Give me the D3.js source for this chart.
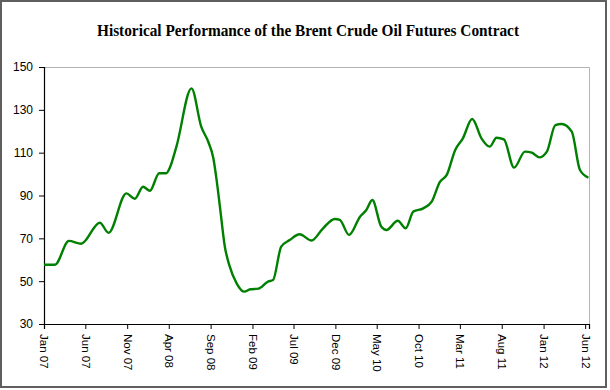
<!DOCTYPE html>
<html>
<head>
<meta charset="utf-8">
<script src="https://cdn.jsdelivr.net/npm/d3@7"></script>
<style>
  body { margin: 0; background: #fff; }
  svg { display: block; }
</style>
</head>
<body>
<svg id="chart" width="610" height="390"></svg>
<script>
// Brent front-month price (USD/bbl)
var dates = ["2007-01-01", "2007-02-10", "2007-04-02", "2007-05-17", "2007-07-24", "2007-08-25",
    "2007-10-29", "2007-11-29", "2007-12-29", "2008-01-23", "2008-02-26", "2008-03-23",
    "2008-04-04", "2008-04-29", "2008-06-23", "2008-07-29", "2008-08-23", "2008-09-11",
    "2008-09-23", "2008-10-05", "2008-10-23", "2008-11-08", "2008-12-05", "2009-01-02",
    "2009-01-24", "2009-02-23", "2009-03-30", "2009-04-17", "2009-05-17", "2009-06-17",
    "2009-07-23", "2009-09-05", "2009-10-17", "2009-11-29", "2009-12-17", "2010-01-20",
    "2010-03-01", "2010-03-24", "2010-04-15", "2010-05-18", "2010-06-06", "2010-07-17",
    "2010-08-15", "2010-09-12", "2010-10-18", "2010-11-18", "2010-12-18", "2011-01-12",
    "2011-02-12", "2011-03-12", "2011-04-15", "2011-05-19", "2011-06-18", "2011-07-13",
    "2011-08-09", "2011-09-15", "2011-10-25", "2011-11-19", "2011-12-16", "2012-01-13",
    "2012-02-13", "2012-03-07", "2012-04-13", "2012-05-13", "2012-06-13"];
var prices = [57.7, 57.7, 68.8, 67.5, 77.3, 72.6,
    91.0, 88.5, 94.1, 92.2, 100.4, 100.4,
    102.7, 112.8, 140.0, 122.0, 115.2, 107.4,
    97.2, 84.8, 66.1, 57.6, 49.0, 45.1,
    46.2, 46.5, 49.8, 50.5, 66.1, 69.2,
    71.9, 69.0, 74.7, 79.0, 78.6, 71.6,
    80.1, 83.2, 87.9, 75.4, 73.9, 78.2,
    74.7, 82.5, 84.0, 87.1, 96.4, 99.6,
    111.3, 116.7, 125.7, 116.7, 112.8, 117.0,
    116.2, 103.0, 110.5, 110.0, 107.8, 110.5,
    122.9, 123.4, 119.8, 101.9, 98.3];
var yTicks = [30, 50, 70, 90, 110, 130, 150];
var xTickMonths = ["2007-01", "2007-06", "2007-11", "2008-04", "2008-09", "2009-02", "2009-07",
    "2009-12", "2010-05", "2010-10", "2011-03", "2011-08", "2012-01", "2012-06"];

var svg = d3.select("#chart");
var W = 610, H = 390;
var plotL = 44, plotT = 67, plotR = 589, plotB = 324;

var parseDay = d3.timeParse("%Y-%m-%d");
var parseMonth = d3.timeParse("%Y-%m");
var data = dates.map(function (d, i) { return { date: parseDay(d), value: prices[i] }; });

// outer frame
svg.append("rect")
    .attr("x", 1).attr("y", 1).attr("width", W - 5).attr("height", H - 4)
    .attr("fill", "#fff").attr("stroke", "#5f5f5f").attr("stroke-width", 2);

svg.append("text")
    .attr("x", 97).attr("y", 35.5)
    .attr("textLength", 422).attr("lengthAdjust", "spacingAndGlyphs")
    .style("font-family", "'Liberation Serif', 'Times New Roman', serif")
    .style("font-weight", "bold").style("font-size", "16.5px")
    .text("Historical Performance of the Brent Crude Oil Futures Contract");

var x = d3.scaleTime()
    .domain([parseDay("2007-01-01"), parseDay("2012-06-15")])
    .range([plotL, plotR]);
var y = d3.scaleLinear().domain([30, 150]).range([plotB, plotT]);

// plot area border (top + right in light grey)
svg.append("path")
    .attr("d", "M" + plotL + "," + (plotT + 0.5) + "H" + (plotR + 0.5) + "V" + plotB)
    .attr("fill", "none").attr("stroke", "#b4b4b4").attr("stroke-width", 1);

var yAxis = svg.append("g")
    .attr("transform", "translate(" + plotL + ",0)")
    .call(d3.axisLeft(y).tickValues(yTicks).tickSize(5).tickPadding(6));

var xAxis = svg.append("g")
    .attr("transform", "translate(0," + plotB + ")")
    .call(d3.axisBottom(x)
        .tickValues(xTickMonths.map(parseMonth))
        .tickSize(5)
        .tickFormat(d3.timeFormat("%b %y")));

xAxis.selectAll("text")
    .attr("transform", "rotate(90)")
    .attr("x", 10).attr("y", 0).attr("dy", "0.35em")
    .style("text-anchor", "start");

[yAxis, xAxis].forEach(function (g) {
    g.select(".domain").attr("stroke", "#000").attr("stroke-width", 1.2);
    g.selectAll(".tick line").attr("stroke", "#000");
    g.selectAll("text")
        .attr("fill", "#000")
        .style("font-family", "'Liberation Sans', Arial, sans-serif")
        .style("font-size", "12px");
});
xAxis.selectAll("text").style("font-size", "11.5px");

// monotone keeps the flat stretches flat (no overshoot like catmull-rom)
var line = d3.line()
    .x(function (d) { return x(d.date); })
    .y(function (d) { return y(d.value); })
    .curve(d3.curveMonotoneX);

svg.append("path")
    .datum(data)
    .attr("fill", "none")
    .attr("stroke", "#008000")
    .attr("stroke-width", 2.4)
    .attr("stroke-linejoin", "round")
    .attr("d", line);
</script>
</body>
</html>
